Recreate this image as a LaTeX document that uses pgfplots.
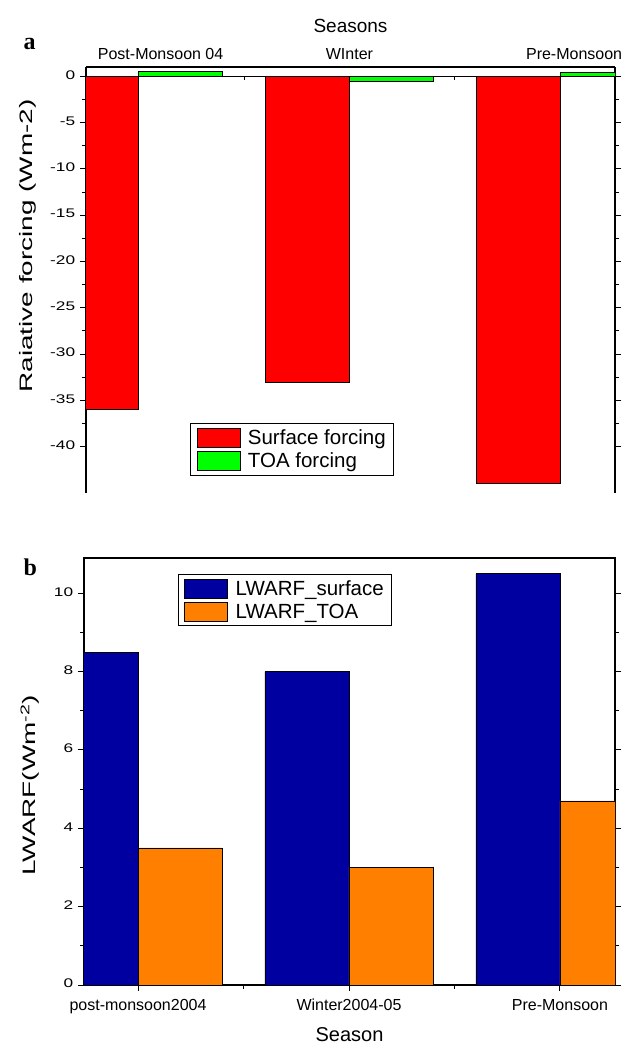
\documentclass[border=0pt]{standalone}
\usepackage{fontspec}
\setmainfont{Liberation Sans}
\newfontfamily\serifbf{Liberation Serif}
\usepackage{graphicx}
\usepackage{pgfplots}
\pgfplotsset{compat=1.18}

\definecolor{barred}{RGB}{255,0,0}
\definecolor{bargreen}{RGB}{0,255,0}
\definecolor{barblue}{RGB}{0,0,160}
\definecolor{barorange}{RGB}{255,128,0}

\pgfplotsset{
  panel/.style={
    scale only axis,
    ybar=0pt, bar width=84pt,
    tick align=outside,
    major tick length=6pt, minor tick length=4pt,
    axis line style={line width=1.1pt},
    every tick/.style={black, line width=0.9pt},
    minor y tick num=1,
    typeset ticklabels with strut,
    yticklabel style={font=\fontsize{12.5}{14}\selectfont, xscale=1.38},
    xticklabel style={font=\fontsize{16}{18}\selectfont},
    ylabel style={font=\fontsize{18}{20}\selectfont, anchor=center},
    legend cell align=left,
    legend style={draw=black, line width=0.8pt, font=\fontsize{20.5}{23}\selectfont,
      inner xsep=6pt, inner ysep=4pt, row sep=3pt},
    legend image code/.code={%
      \draw[##1,draw=black,line width=0.6pt] (0pt,-9.5pt) rectangle (43pt,9.5pt);
      \path[draw=none,fill=none] (0pt,0pt) -- (49pt,0pt);},
  },
}

\begin{document}
\begin{tikzpicture}
\path (0pt,0pt) rectangle (630pt,1048pt);

\node[font=\fontsize{24}{28}\serifbf\bfseries, anchor=base west] at (20pt,998pt) {a};
\node[font=\fontsize{24}{28}\serifbf\bfseries, anchor=base west] at (20pt,472pt) {b};

% panel a
\begin{axis}[panel,
  at={(86pt,555pt)}, anchor=south west,
  width=529pt, height=426pt,
  xmin=-0.25, xmax=2.26, ymin=-45, ymax=1,
  axis x line*=top,
  x tick style={draw=none},
  xtick={0.104,1,2.066},
  xticklabels={Post-Monsoon 04,WInter,Pre-Monsoon},
  xticklabel style={yshift=-7pt},
  ytick={0,-5,-10,-15,-20,-25,-30,-35,-40},
  yticklabels={0,-5,-10,-15,-20,-25,-30,-35,-40},
  ylabel={\scalebox{1.55}[1]{Raiative forcing (Wm-2)}},
  ylabel style={at={(axis description cs:-0.1096,0.58)}},
  title={Seasons},
  title style={at={(axis description cs:0.5,1.082)}, anchor=center, yshift=0pt, font=\fontsize{19}{22}\selectfont},
  legend style={at={(axis description cs:0.197,0.164)}, anchor=north west},
]
\addplot[fill=barred, draw=black, line width=0.6pt] coordinates {(0,-36) (1,-33) (2,-44)};
\addplot[fill=bargreen, draw=black, line width=0.6pt] coordinates {(0,0.5) (1,-0.5) (2,0.4)};
\legend{Surface forcing, TOA forcing}
\draw[line width=0.9pt] (axis cs:-0.25,0) -- (axis cs:2.26,0);
\pgfplotsinvokeforeach{0,0.5,1,1.5,2}{\draw[line width=0.9pt] (axis cs:#1,0) -- ++(0pt,-4pt);}
\end{axis}

% panel b
\begin{axis}[panel,
  at={(84pt,63pt)}, anchor=south west,
  width=531pt, height=427pt,
  xmin=-0.256, xmax=2.261, ymin=0, ymax=10.9,
  xtick={0,1,2},
  xticklabels={post-monsoon2004,Winter2004-05,Pre-Monsoon},
  xticklabel style={yshift=-3pt},
  minor x tick num=1,
  xtick pos=left,
  ytick={0,2,4,6,8,10},
  yticklabels={0,2,4,6,8,10},
  ylabel={\scalebox{1.55}[1]{LWARF(Wm\textsuperscript{-2})}},
  ylabel style={at={(axis description cs:-0.1017,0.468)}},
  xlabel={Season},
  xlabel style={at={(axis description cs:0.5,-0.117)}, anchor=center, font=\fontsize{20}{23}\selectfont},
  legend style={at={(axis description cs:0.177,0.9625)}, anchor=north west},
]
\addplot[fill=barblue, draw=black, line width=0.6pt] coordinates {(0,8.5) (1,8) (2,10.5)};
\addplot[fill=barorange, draw=black, line width=0.6pt] coordinates {(0,3.5) (1,3) (2,4.7)};
\legend{LWARF\_surface, LWARF\_TOA}
\end{axis}
\end{tikzpicture}
\end{document}
